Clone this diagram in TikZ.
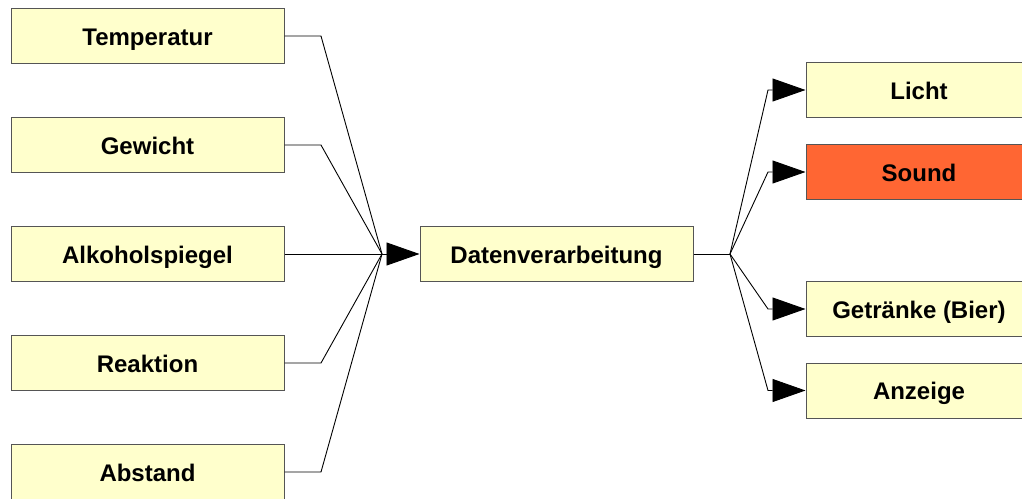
\documentclass[tikz,border=0pt]{standalone}
\usepackage{fontspec}
\setmainfont{Liberation Sans}
\usetikzlibrary{arrows.meta}
\definecolor{boxfill}{HTML}{FFFFCC}
\definecolor{soundfill}{HTML}{FF6633}
\definecolor{boxline}{HTML}{555555}
\tikzset{
  box/.style={draw=boxline, line width=1pt, fill=boxfill, minimum height=55pt,
    inner sep=0pt, text height=18.7pt, text depth=0pt,
    font=\fontsize{24}{28}\selectfont\bfseries, text=black},
  lbox/.style={box, minimum width=273pt},
  rbox/.style={box, minimum width=226pt},
  conn/.style={draw=black, line width=0.9pt},
  arr/.style={conn, -{Triangle[length=33pt,width=23pt]}},
}
\begin{document}
\begin{tikzpicture}[x=1pt,y=-1pt]
\useasboundingbox (0,0) rectangle (1022,498);
\begin{scope}
\clip (0,0) rectangle (1022,498);
% left column
\node[lbox] (temp) at (147.5,36) {Temperatur};
\node[lbox] (gew)  at (147.5,145) {Gewicht};
\node[lbox] (alk)  at (147.5,254) {Alkoholspiegel};
\node[lbox] (rea)  at (147.5,363) {Reaktion};
\node[lbox] (abs)  at (147.5,472) {Abstand};
% center
\node[lbox] (dv) at (556.5,254) {Datenverarbeitung};
% right column
\node[rbox] (licht) at (919,90) {Licht};
\node[rbox, fill=soundfill] (sound) at (919,172) {Sound};
\node[rbox] (getr) at (919,309) {Getränke (Bier)};
\node[rbox] (anz) at (919,390.5) {Anzeige};
% junctions
\coordinate (jl) at (382,254);
\coordinate (jr) at (730,254);
\coordinate (kT) at (321,36);
\coordinate (kG) at (321,145);
\coordinate (kR) at (321,363);
\coordinate (kA) at (321,472);
\coordinate (bL) at (768,90);
\coordinate (bS) at (768,172);
\coordinate (bG) at (768,309);
\coordinate (bA) at (768,390.5);
% left connectors
\draw[conn] (temp.east) -- (kT) -- (jl);
\draw[conn] (gew.east) -- (kG) -- (jl);
\draw[conn] (alk.east) -- (jl);
\draw[conn] (rea.east) -- (kR) -- (jl);
\draw[conn] (abs.east) -- (kA) -- (jl);
\draw[arr] (jl) -- (dv.west);
% right connectors
\draw[conn] (dv.east) -- (jr);
\draw[arr] (jr) -- (bL) -- (licht.west);
\draw[arr] (jr) -- (bS) -- (sound.west);
\draw[arr] (jr) -- (bG) -- (getr.west);
\draw[arr] (jr) -- (bA) -- (anz.west);
\end{scope}
\end{tikzpicture}
\end{document}
